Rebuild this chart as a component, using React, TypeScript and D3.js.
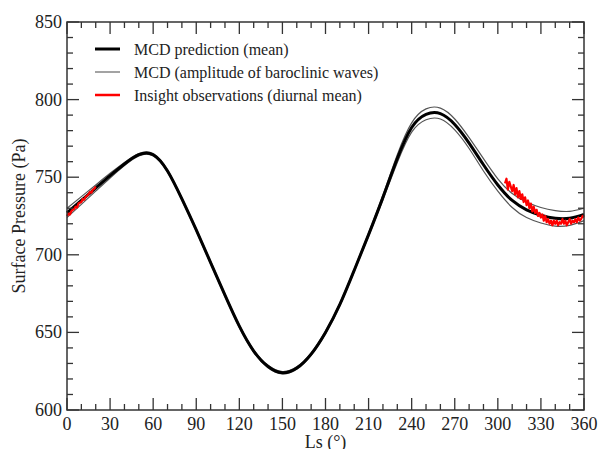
import React, { useRef, useEffect } from 'react';
import * as d3 from 'd3';

// MCD mean surface pressure (Pa) every 10° of Ls
const lsGrid = [0, 10, 20, 30, 40, 50, 60, 70, 80, 90, 100, 110, 120, 130, 140, 150, 160, 170, 180,
  190, 200, 210, 220, 230, 240, 250, 260, 270, 280, 290, 300, 310, 320, 330, 340, 350, 360];
const meanPressure = [727, 735, 743, 751, 758.5, 764.5, 764.5, 754, 736, 716, 695, 674, 654, 638, 628, 624, 627, 636, 650,
  668, 690, 713, 737, 762, 782, 790.5, 791, 784, 772, 758, 745, 735, 729, 725.5, 723.5, 723.5, 726];
// half amplitude of baroclinic waves (Pa)
const waveAmplitude = [3, 2.5, 2, 1.5, 1, 0.8, 0.8, 0.8, 0.8, 0.8, 0.8, 0.8, 0.8, 0.8, 0.8, 0.8, 0.8, 0.8, 0.8,
  0.8, 0.8, 1, 1.5, 2.5, 3, 3.5, 3.5, 3.5, 3.5, 4, 4, 4.5, 5, 5, 5, 4.5, 4];

// InSight diurnal mean observations
const obsLsEarly = [0, 1, 2, 3, 4, 5, 6, 7, 8, 9, 10, 11, 12, 13, 14, 15, 16, 17, 18, 19, 20];
const obsEarly = [725, 726.5, 726, 728, 729, 729.5, 731, 730.5, 733, 733.5, 734, 736, 735.5, 737.5, 738, 739, 740.5, 740, 742, 742.5, 744];
const obsLsLate = [305, 306, 307, 308, 309, 310, 311, 312, 313, 314, 315, 316, 317, 318, 319, 320, 321, 322, 323, 324,
  325, 326, 327, 328, 329, 330, 331, 332, 333, 334, 335, 336, 337, 338, 339, 340, 341, 342, 343, 344, 345, 346, 347,
  348, 349, 350, 351, 352, 353, 354, 355, 356, 357, 358, 359, 360];
const obsLate = [746, 749, 742, 747, 744, 741, 745, 739, 743, 737, 741, 736, 739, 734, 737, 732, 735, 730, 733, 728,
  731, 727, 729, 725, 727, 724, 726, 722, 725, 721, 723, 720, 722, 719, 722, 720, 722, 719, 721, 720, 723, 720, 722,
  719, 721, 723, 720, 722, 721, 723, 721, 724, 722, 723, 725, 724];

const xTicks = [0, 30, 60, 90, 120, 150, 180, 210, 240, 270, 300, 330, 360];
const yTicks = [600, 650, 700, 750, 800, 850];

const legendItems = [
  { label: 'MCD prediction (mean)', color: '#000', width: 3 },
  { label: 'MCD (amplitude of baroclinic waves)', color: '#666', width: 1.2 },
  { label: 'Insight observations (diurnal mean)', color: '#f00', width: 2.5 },
];

const width = 600;
const height = 449;
const margin = { top: 22, right: 16, bottom: 39, left: 67 };
const font = '"Liberation Serif", "Times New Roman", serif';
const ink = '#222';

const App = () => {
  const ref = useRef<SVGSVGElement>(null);

  useEffect(() => {
    const svg = d3.select(ref.current);
    svg.selectAll('*').remove();

    const innerWidth = width - margin.left - margin.right;
    const innerHeight = height - margin.top - margin.bottom;

    const x = d3.scaleLinear().domain([0, 360]).range([0, innerWidth]);
    const y = d3.scaleLinear().domain([600, 850]).range([innerHeight, 0]);

    const chart = svg.append('g')
      .attr('transform', `translate(${margin.left}, ${margin.top})`);

    const line = d3.line<[number, number]>()
      .x(d => x(d[0]))
      .y(d => y(d[1]))
      .curve(d3.curveNatural);

    const upper = lsGrid.map((ls, i) => [ls, meanPressure[i] + waveAmplitude[i]] as [number, number]);
    const lower = lsGrid.map((ls, i) => [ls, meanPressure[i] - waveAmplitude[i]] as [number, number]);
    const mean = lsGrid.map((ls, i) => [ls, meanPressure[i]] as [number, number]);

    // amplitude lines
    [upper, lower].forEach(pts => {
      chart.append('path')
        .attr('d', line(pts))
        .attr('fill', 'none')
        .attr('stroke', '#555')
        .attr('stroke-width', 1.2);
    });

    // mean
    chart.append('path')
      .attr('d', line(mean))
      .attr('fill', 'none')
      .attr('stroke', '#000')
      .attr('stroke-width', 3);

    // observations
    const obsLine = d3.line<[number, number]>()
      .x(d => x(d[0]))
      .y(d => y(d[1]));
    [
      obsLsEarly.map((ls, i) => [ls, obsEarly[i]] as [number, number]),
      obsLsLate.map((ls, i) => [ls, obsLate[i]] as [number, number]),
    ].forEach(pts => {
      chart.append('path')
        .attr('d', obsLine(pts))
        .attr('fill', 'none')
        .attr('stroke', '#f00')
        .attr('stroke-width', 2.2)
        .attr('stroke-linejoin', 'round');
    });

    // Frame
    chart.append('rect')
      .attr('width', innerWidth)
      .attr('height', innerHeight)
      .attr('fill', 'none')
      .attr('stroke', '#333')
      .attr('stroke-width', 1.5);

    // Ticks, all pointing inward
    const xMinor = d3.range(0, 361, 10);
    const yMinor = d3.range(600, 851, 10);
    const tickColor = '#333';
    xMinor.forEach(v => {
      const len = v % 30 === 0 ? 12 : 6;
      [[innerHeight, innerHeight - len], [0, len]].forEach(([y1, y2]) => {
        chart.append('line')
          .attr('x1', x(v)).attr('x2', x(v))
          .attr('y1', y1).attr('y2', y2)
          .attr('stroke', tickColor).attr('stroke-width', 1.3);
      });
    });
    yMinor.forEach(v => {
      const len = v % 50 === 0 ? 12 : 6;
      [[0, len], [innerWidth, innerWidth - len]].forEach(([x1, x2]) => {
        chart.append('line')
          .attr('x1', x1).attr('x2', x2)
          .attr('y1', y(v)).attr('y2', y(v))
          .attr('stroke', tickColor).attr('stroke-width', 1.3);
      });
    });

    // Tick labels
    chart.selectAll('.xlab')
      .data(xTicks)
      .join('text')
      .attr('x', d => x(d))
      .attr('y', innerHeight + 20)
      .attr('text-anchor', 'middle')
      .style('font-family', font)
      .style('font-size', '18px')
      .attr('fill', ink)
      .text(d => d);

    chart.selectAll('.ylab')
      .data(yTicks)
      .join('text')
      .attr('x', -5)
      .attr('y', d => y(d) + 6)
      .attr('text-anchor', 'end')
      .style('font-family', font)
      .style('font-size', '18px')
      .attr('fill', ink)
      .text(d => d);

    // Axis labels
    chart.append('text')
      .attr('x', innerWidth / 2)
      .attr('y', innerHeight + 38)
      .attr('text-anchor', 'middle')
      .style('font-family', font)
      .style('font-size', '18px')
      .attr('fill', ink)
      .text('Ls (°)');

    chart.append('text')
      .attr('transform', 'rotate(-90)')
      .attr('x', -innerHeight / 2)
      .attr('y', -42)
      .attr('text-anchor', 'middle')
      .style('font-family', font)
      .style('font-size', '18px')
      .attr('fill', ink)
      .text('Surface Pressure (Pa)');

    // Legend
    const legend = chart.append('g').attr('transform', 'translate(28, 27)');
    legendItems.forEach((item, i) => {
      legend.append('line')
        .attr('x1', 0).attr('x2', 25)
        .attr('y1', i * 23).attr('y2', i * 23)
        .attr('stroke', item.color)
        .attr('stroke-width', item.width);
      legend.append('text')
        .attr('x', 39)
        .attr('y', i * 23 + 5.5)
        .style('font-family', font)
        .style('font-size', '16px')
        .attr('fill', ink)
        .text(item.label);
    });
  }, []);

  return (
    <svg ref={ref} width={width} height={height}
      style={{ position: 'absolute', left: 0, top: 0, background: '#fff' }} />
  );
};

export default App;
